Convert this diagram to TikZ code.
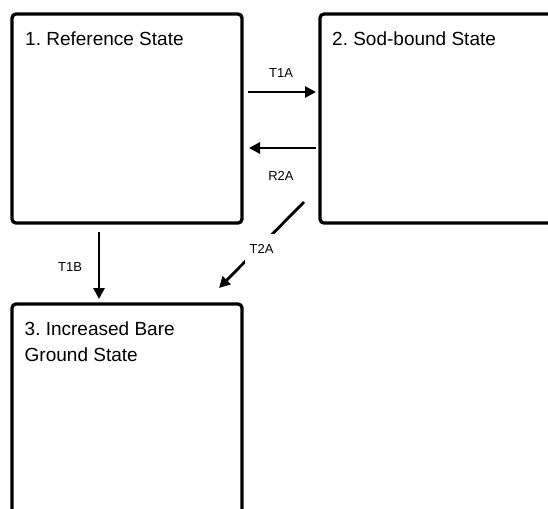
\documentclass[tikz,border=0pt]{standalone}
\usepackage{fontspec}
\setmainfont{Liberation Sans}
\usetikzlibrary{arrows.meta}
\frenchspacing
\begin{document}
\begin{tikzpicture}[x=1pt,y=-1pt,
  statebox/.style={draw=black, line width=3.3pt, rounded corners=4pt, inner sep=0pt, outer sep=0pt, fill=white},
  title/.style={font=\fontsize{19}{26}\selectfont, inner sep=0pt, anchor=base west, align=left},
  lbl/.style={font=\fontsize{13}{15}\selectfont, inner sep=0pt},
  arr/.style={line width=2.8pt, -{Triangle[length=11pt,width=11pt]}}]
\useasboundingbox (0,0) rectangle (548,508);
\clip (0,0) rectangle (548,508);
\node[statebox, minimum width=230pt, minimum height=209pt] (b1) at (127,118.5) {};
\node[statebox, minimum width=240pt, minimum height=209pt] (b2) at (440,118.5) {};
\node[statebox, minimum width=230pt, minimum height=220pt] (b3) at (127,414) {};
\node[title] (t1) at (25,45.7) {1. Reference State};
\node[title] (t2) at (332,45.7) {2. Sod-bound State};
\node[title] (t3) at (24.5,361.7) {3. Increased Bare\\Ground State};
% T1A
\draw[arr, shorten <=6pt, shorten >=4pt] ([yshift=26.5pt]b1.east) -- node[lbl, yshift=19pt] (l1) {T1A} ([yshift=26.5pt]b2.west);
% R2A
\draw[arr, shorten <=4pt, shorten >=7pt] ([yshift=-29.5pt]b2.west) -- node[lbl, yshift=-28pt] (l2) {R2A} ([yshift=-29.5pt]b1.east);
% T1B
\draw[arr, shorten <=9pt, shorten >=5pt] ([xshift=-28pt]b1.south) -- node[lbl, xshift=-29pt, yshift=-4pt] (l3) {T1B} ([xshift=-28pt]b3.north);
% T2A
\coordinate (s4) at ([shift={(-16,-21)}]b2.south west);
\coordinate (e4) at ([shift={(-23,-16)}]b3.north east);
\draw[arr] (s4) -- node[lbl, fill=white, minimum width=33pt, minimum height=30pt, yshift=-4pt] (l4) {T2A} (e4);
\end{tikzpicture}
\end{document}
